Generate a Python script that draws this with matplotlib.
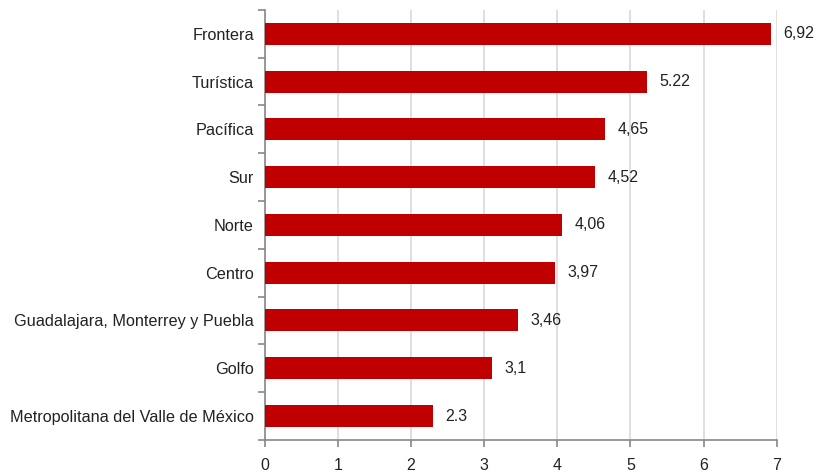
import matplotlib
matplotlib.use("Agg")
import matplotlib.pyplot as plt
from matplotlib.ticker import FixedLocator, NullFormatter

regiones = [
    "Frontera",
    "Turística",
    "Pacífica",
    "Sur",
    "Norte",
    "Centro",
    "Guadalajara, Monterrey y Puebla",
    "Golfo",
    "Metropolitana del Valle de México",
]
valores = [6.92, 5.22, 4.65, 4.52, 4.06, 3.97, 3.46, 3.1, 2.3]
separadores = [",", ".", ",", ",", ",", ",", ",", ",", "."]
x_ticks = [0, 1, 2, 3, 4, 5, 6, 7]

plt.rcParams["font.family"] = ["Liberation Sans", "DejaVu Sans"]

fig = plt.figure(figsize=(8.15, 4.72), dpi=100)
ax = fig.add_axes([0.325, 0.068, 0.628, 0.911])

n = len(regiones)
pos = list(range(n))
ax.barh(pos, valores, height=0.46, color="#C00000", zorder=3)

for y, v, s in zip(pos, valores, separadores):
    ax.text(v + 0.17, y, f"{v:g}".replace(".", s), va="center", ha="left",
            fontsize=11.5, color="#222222")

ax.set_xlim(0, 7)
ax.set_ylim(n - 0.5, -0.5)
ax.set_xticks(x_ticks)
ax.set_xticklabels([str(t) for t in x_ticks], fontsize=11.5, color="#222222")
ax.xaxis.grid(True, color="#d9d9d9", linewidth=1.2, zorder=0)

ax.set_yticks(pos)
ax.set_yticklabels(regiones, fontsize=11.7, color="#222222")
ax.tick_params(axis="y", which="major", length=0, pad=8)
ax.yaxis.set_minor_locator(FixedLocator([i - 0.5 for i in range(n + 1)]))
ax.yaxis.set_minor_formatter(NullFormatter())
ax.tick_params(axis="y", which="minor", length=5, color="#888888", width=1.2)
ax.tick_params(axis="x", length=5, color="#888888", width=1.2, pad=8)

for side in ("top", "right"):
    ax.spines[side].set_visible(False)
for side in ("left", "bottom"):
    ax.spines[side].set_color("#888888")
    ax.spines[side].set_linewidth(1.2)

fig.savefig("out.png", dpi=100)
